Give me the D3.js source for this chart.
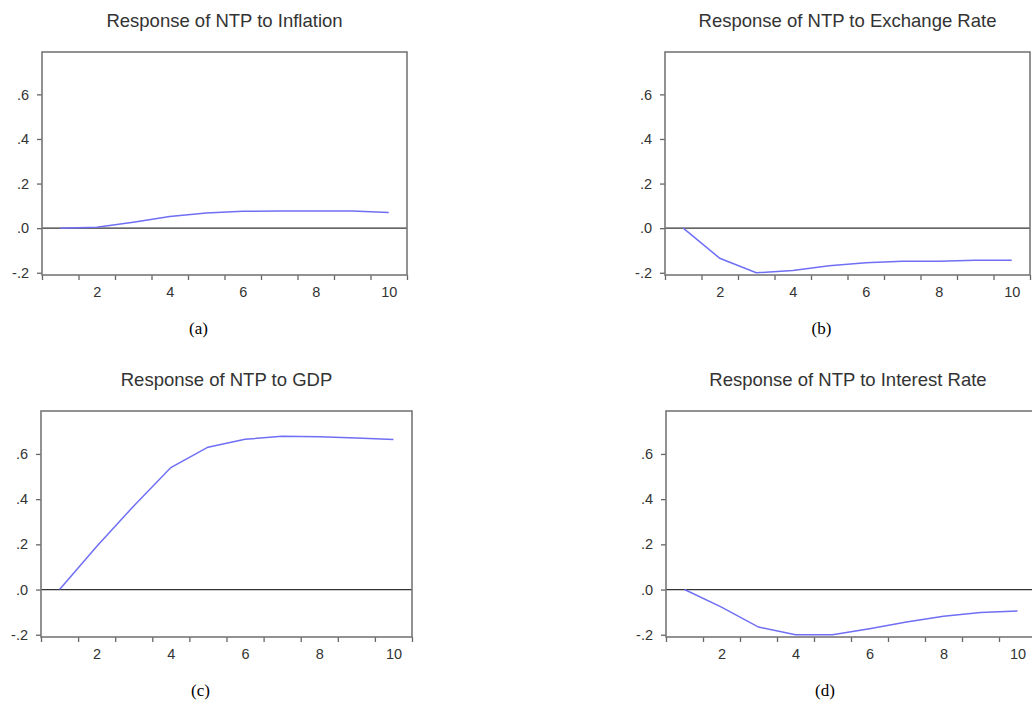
<!DOCTYPE html>
<html lang="en">
  <head>
    <meta charset="utf-8">
    <title>Impulse responses of NTP</title>
    <style>
      body { margin: 0; background: #fff; }
      .frame { fill: none; stroke: #777; stroke-width: 1.6px; }
      .zero { stroke: #333; stroke-width: 1.2px; }
      .series { fill: none; stroke: #6f6ff5; stroke-width: 1.5px; }
      .title { font-family: "Liberation Sans", Arial, sans-serif; font-size: 18.5px; fill: #333; }
      .axis text { font-family: "Liberation Sans", Arial, sans-serif; font-size: 14.5px; fill: #333; }
      .axis path { display: none; }
      .axis line { stroke: #666; stroke-width: 1.3px; }
      .sub { font-family: "Liberation Serif", "Times New Roman", serif; font-size: 17px; fill: #000; }
    </style>
  </head>
  <body>
<script src="https://cdn.jsdelivr.net/npm/d3@7"></script>
<script>

// periods 1..10 of the impulse responses
const periods = [1, 2, 3, 4, 5, 6, 7, 8, 9, 10]

// response of NTP to each shock
const inflation    = [0, 0.004, 0.027, 0.052, 0.068, 0.076, 0.077, 0.077, 0.077, 0.070]
const exchangeRate = [0, -0.135, -0.2, -0.19, -0.168, -0.155, -0.148, -0.148, -0.144, -0.144]
const gdp          = [0, 0.19, 0.37, 0.54, 0.63, 0.665, 0.678, 0.676, 0.670, 0.664]
const interestRate = [0, -0.078, -0.166, -0.2, -0.2, -0.173, -0.144, -0.118, -0.102, -0.095]

const titles    = ["Response of NTP to Inflation", "Response of NTP to Exchange Rate",
                   "Response of NTP to GDP", "Response of NTP to Interest Rate"]
const subLabels = ["(a)", "(b)", "(c)", "(d)"]
const yTicks    = [-0.2, 0, 0.2, 0.4, 0.6]
const xLabels   = [2, 4, 6, 8, 10]

const series = [inflation, exchangeRate, gdp, interestRate]

// frame boxes of the four panels
const boxes = [
  {x: 42,  y: 52,  w: 365, h: 223},
  {x: 665, y: 52,  w: 365, h: 223},
  {x: 41,  y: 411, w: 371, h: 226},
  {x: 666, y: 411, w: 370, h: 226}
]

const svg = d3.select("body").append("svg")
    .attr("width", 1032)
    .attr("height", 701)

// EViews style: ".6", ".0", "-.2"
const fmt = v => (v < 0 ? "-" : "") + Math.abs(v).toFixed(1).replace(/^0/, "")

boxes.forEach((b, i) => {
  const x = d3.scaleLinear().domain([0.5, 10.5]).range([b.x, b.x + b.w])
  const y = d3.scaleLinear().domain([-0.21, 0.79]).range([b.y + b.h, b.y])
  const g = svg.append("g")

  // title
  g.append("text").attr("class", "title")
      .attr("x", b.x + b.w / 2 + (i == 3 ? -3 : 0))
      .attr("y", b.y - 25)
      .attr("text-anchor", "middle")
      .text(titles[i])

  // zero line
  g.append("line").attr("class", "zero")
      .attr("x1", b.x).attr("x2", b.x + b.w)
      .attr("y1", y(0)).attr("y2", y(0))

  // the response line
  const line = d3.line().x((d, k) => x(periods[k])).y(d => y(d))
  g.append("path").attr("class", "series")
      .datum(series[i])
      .attr("d", line)

  // y axis
  g.append("g").attr("class", "axis")
      .attr("transform", `translate(${b.x},0)`)
      .call(d3.axisLeft(y).tickValues(yTicks).tickSize(5).tickPadding(8).tickFormat(fmt))

  // x axis: ticks between periods, labels on even periods
  g.append("g").attr("class", "axis")
      .attr("transform", `translate(0,${b.y + b.h})`)
      .call(d3.axisBottom(x).tickValues(d3.range(0.5, 10.6, 1)).tickSize(5).tickFormat(""))
  g.append("g").attr("class", "axis")
      .attr("transform", `translate(0,${b.y + b.h})`)
      .call(d3.axisBottom(x).tickValues(xLabels).tickSize(0).tickPadding(12).tickFormat(d3.format("d")))

  // frame
  g.append("rect").attr("class", "frame")
      .attr("x", b.x).attr("y", b.y)
      .attr("width", b.w).attr("height", b.h)

  // panel label
  g.append("text").attr("class", "sub")
      .attr("x", b.x + b.w / 2 - 26)
      .attr("y", b.y + b.h + 59)
      .attr("text-anchor", "middle")
      .text(subLabels[i])
})

</script>
  </body>
</html>
